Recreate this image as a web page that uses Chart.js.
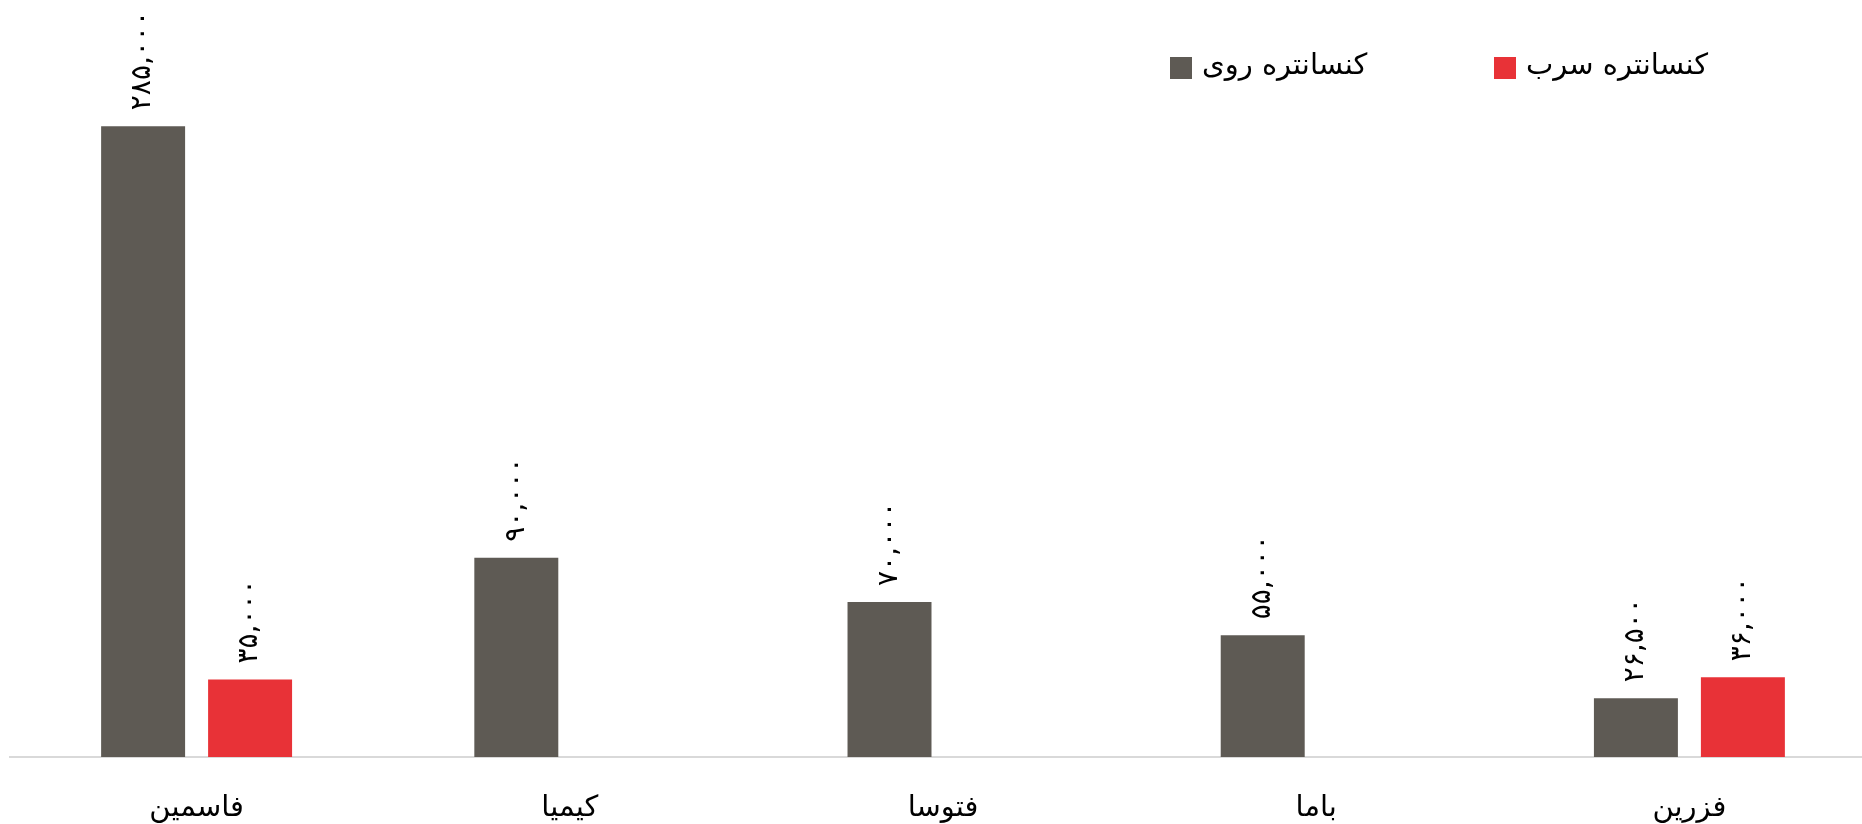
<!DOCTYPE html>
<html>
<head>
<meta charset="utf-8">
<script src="https://cdn.jsdelivr.net/npm/chart.js@4.4.1/dist/chart.umd.min.js"></script>
<style>
  html, body { margin: 0; padding: 0; background: #fff; overflow: hidden; }
  #wrap { width: 1876px; height: 824px; }
</style>
</head>
<body>
<div id="wrap"><canvas id="myChart"></canvas></div>
<script>
// categories and series
var companies = ["فاسمین", "کیمیا", "فتوسا", "باما", "فزرین"];
var zincLabel = "کنسانتره روی";
var leadLabel = "کنسانتره سرب";
var zincValues = [285000, 90000, 70000, 55000, 26500];
var leadValues = [35000, null, null, null, 36000];

var FONT = '"DejaVu Sans", sans-serif';

function faNum(v) {
    var s = String(v).replace(/\B(?=(\d{3})+(?!\d))/g, ',');
    return s.replace(/\d/g, function (d) { return '۰۱۲۳۴۵۶۷۸۹'[d]; });
}

// vertical value labels above each bar
var barLabels = {
    id: 'barLabels',
    afterDatasetsDraw: function (chart) {
        var ctx = chart.ctx;
        ctx.save();
        ctx.font = '28px ' + FONT;
        ctx.fillStyle = '#000';
        ctx.textAlign = 'left';
        ctx.textBaseline = 'middle';
        chart.data.datasets.forEach(function (ds, i) {
            var meta = chart.getDatasetMeta(i);
            meta.data.forEach(function (bar, j) {
                var v = ds.data[j];
                if (v === null || v === undefined) return;
                ctx.save();
                ctx.translate(bar.x, bar.y - 16);
                ctx.rotate(-Math.PI / 2);
                ctx.fillText(faNum(v), 0, 0);
                ctx.restore();
            });
        });
        ctx.restore();
    }
};

// legend in the upper right, like the original
var topLegend = {
    id: 'topLegend',
    afterDraw: function (chart) {
        var ctx = chart.ctx;
        var xs = [1170, 1494];
        ctx.save();
        ctx.font = '29px ' + FONT;
        ctx.textBaseline = 'middle';
        ctx.textAlign = 'left';
        chart.data.datasets.forEach(function (ds, i) {
            ctx.fillStyle = ds.backgroundColor;
            ctx.fillRect(xs[i], 57, 22, 22);
            ctx.fillStyle = '#000';
            ctx.fillText(ds.label, xs[i] + 32, 66);
        });
        ctx.restore();
    }
};

var ctx = document.getElementById('myChart').getContext('2d');
var chart = new Chart(ctx, {
    type: 'bar',
    data: {
        labels: companies,
        datasets: [{
            label: zincLabel,
            backgroundColor: '#5e5a54',
            data: zincValues
        }, {
            label: leadLabel,
            backgroundColor: '#e83237',
            data: leadValues
        }]
    },
    plugins: [barLabels, topLegend],
    options: {
        responsive: true,
        maintainAspectRatio: false,
        animation: false,
        layout: { padding: { top: 93, left: 10, right: 0, bottom: 0 } },
        categoryPercentage: 0.5733,
        barPercentage: 0.785,
        plugins: {
            legend: { display: false },
            tooltip: { enabled: false }
        },
        scales: {
            x: {
                grid: { display: false, drawTicks: false },
                border: { display: true, color: '#d9d9d9', width: 2 },
                ticks: {
                    color: '#000',
                    padding: 34,
                    font: { family: FONT, size: 29 }
                },
                afterFit: function (axis) { axis.height = 67; }
            },
            y: {
                display: false,
                min: 0,
                max: 300000
            }
        }
    }
});
</script>
</body>
</html>
